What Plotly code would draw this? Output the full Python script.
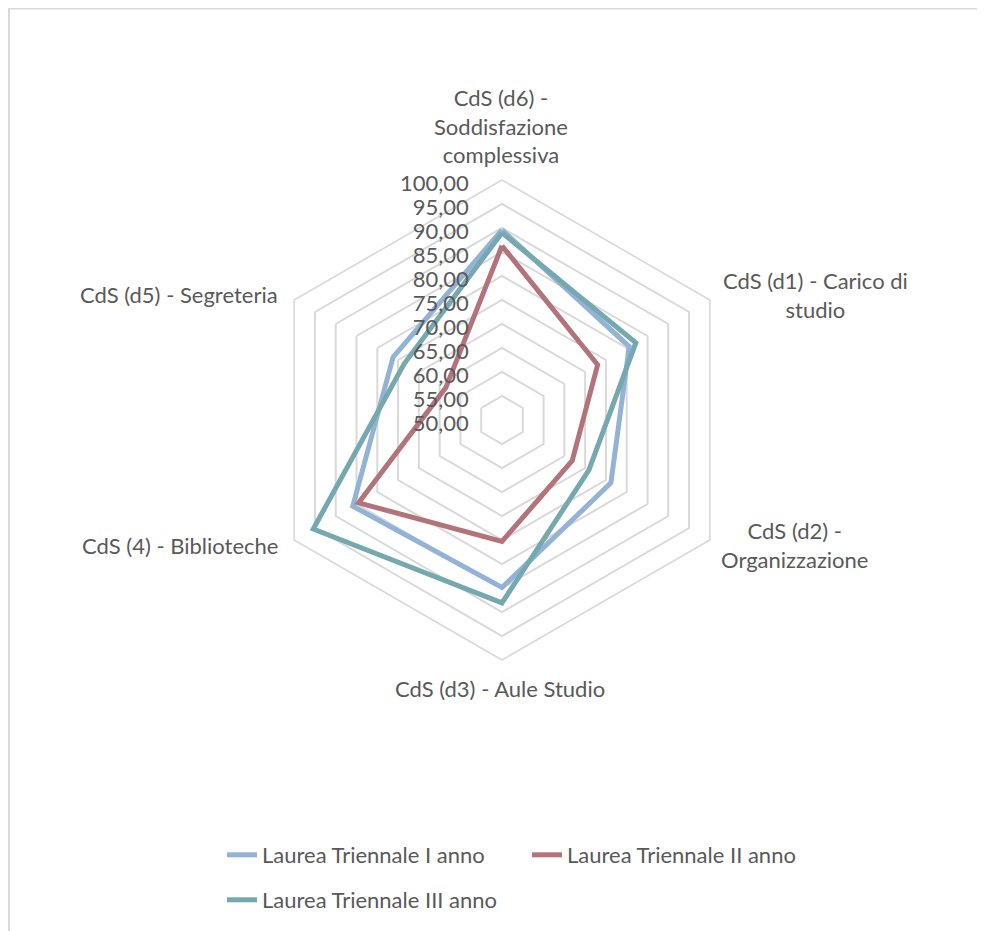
import math
import plotly.graph_objects as go

# ---------------- data ----------------
categories = [
    "CdS (d6) -<br>Soddisfazione<br>complessiva",
    "CdS (d1) - Carico di<br>studio",
    "CdS (d2) -<br>Organizzazione",
    "CdS (d3) - Aule Studio",
    "CdS (4) - Biblioteche",
    "CdS (d5) - Segreteria",
]
series_names = ["Laurea Triennale I anno", "Laurea Triennale II anno", "Laurea Triennale III anno"]
anno1 = [89.6, 80.6, 76.2, 84.9, 85.9, 76.2]
anno2 = [86.3, 73.0, 66.9, 75.3, 84.5, 63.5]
anno3 = [89.0, 82.2, 70.9, 88.1, 95.4, 73.5]
tick_values = [50, 55, 60, 65, 70, 75, 80, 85, 90, 95, 100]

# ---------------- style ----------------
colors = ["#93B3D6", "#B3737A", "#75A9AF"]
FONT = "Lato"
TXT = "#595959"
GRID = "#D9D9D9"

OFF = 8  # page body margin
W, H = 985 - OFF, 931 - OFF
cx, cy, R = 502 - OFF, 420 - OFF, 240


def px(x):
    return (x - OFF) / W


def py(y):
    return 1 - (y - OFF) / H


# label placement (page pixels): x, y, xanchor
label_pos = [
    (501, 126, "center"),
    (815, 295, "center"),
    (795, 545, "center"),
    (500, 688, "center"),
    (280, 545, "right"),
    (280, 295, "right"),
]

fig = go.Figure()
for name, vals, col, lg in zip(series_names, [anno1, anno2, anno3], colors,
                               ["legend", "legend", "legend2"]):
    fig.add_trace(go.Scatterpolar(
        r=vals + [vals[0]],
        theta=categories + [categories[0]],
        mode="lines",
        name=name,
        line=dict(color=col, width=5),
        legend=lg,
    ))

annotations = []
for cat, (x, y, xa) in zip(categories, label_pos):
    annotations.append(dict(
        text=cat, x=px(x), y=py(y), xref="paper", yref="paper",
        xanchor=xa, yanchor="middle", align="center" if xa == "center" else "right",
        showarrow=False, font=dict(size=22, color=TXT, family=FONT),
    ))

fig.update_layout(
    width=W, height=H,
    margin=dict(l=0, r=0, t=0, b=0),
    paper_bgcolor="white",
    separators=",.",
    font=dict(family=FONT, color=TXT, size=21),
    polar=dict(
        domain=dict(x=[(cx - R) / W, (cx + R) / W],
                    y=[(H - cy - R) / H, (H - cy + R) / H]),
        bgcolor="white",
        gridshape="linear",
        radialaxis=dict(
            range=[50, 100],
            tickvals=tick_values,
            tickformat=".2f",
            angle=90,
            side="counterclockwise",
            showline=False,
            ticks="outside",
            ticklen=13,
            tickcolor="rgba(0,0,0,0)",
            gridcolor=GRID,
            gridwidth=1.6,
            tickfont=dict(size=22, color=TXT, family=FONT),
        ),
        angularaxis=dict(
            rotation=90,
            direction="clockwise",
            showgrid=False,
            showline=True,
            linecolor=GRID,
            linewidth=1.6,
            ticks="",
            showticklabels=False,
        ),
    ),
    legend=dict(
        orientation="h",
        x=px(222), xanchor="left",
        y=py(855), yanchor="middle",
        font=dict(size=22, color=TXT, family=FONT),
        entrywidth=260,
        bgcolor="rgba(0,0,0,0)",
    ),
    legend2=dict(
        orientation="h",
        x=px(222), xanchor="left",
        y=py(900), yanchor="middle",
        font=dict(size=22, color=TXT, family=FONT),
        bgcolor="rgba(0,0,0,0)",
    ),
    annotations=annotations,
    shapes=[dict(type="rect", xref="paper", yref="paper",
                 x0=px(9), x1=1.05, y0=-0.05, y1=py(8.5),
                 line=dict(color=GRID, width=2), fillcolor="rgba(0,0,0,0)", layer="below")],
)

fig.write_html("out.html")
